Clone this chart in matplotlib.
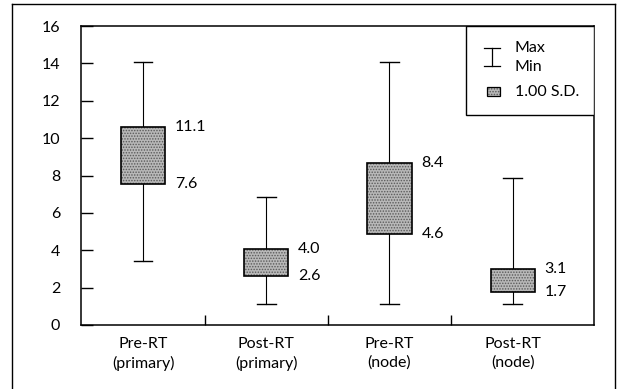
import matplotlib
matplotlib.use("Agg")
import matplotlib.pyplot as plt
from matplotlib.patches import Rectangle
from matplotlib.lines import Line2D

# ---- data ----
categories = ["Pre-RT\n(primary)", "Post-RT\n(primary)", "Pre-RT\n(node)", "Post-RT\n(node)"]
max_vals = [14.05, 6.85, 14.05, 7.85]
min_vals = [3.4, 1.13, 1.12, 1.12]
sd_high = [10.6, 4.05, 8.65, 3.0]
sd_low = [7.55, 2.62, 4.85, 1.75]
high_labels = ["11.1", "4.0", "8.4", "3.1"]
low_labels = ["7.6", "2.6", "4.6", "1.7"]
yticks = [0, 2, 4, 6, 8, 10, 12, 14, 16]

plt.rcParams['font.family'] = ['Lato', 'DejaVu Sans']
plt.rcParams['hatch.linewidth'] = 0.7
FS = 11.5
FACE = '#b8b8b8'
HATCH_C = '#5a5a5a'

fig = plt.figure(figsize=(6.17, 3.89), dpi=100)
ax = fig.add_axes([81/617, 1-325/389, (594-81)/617, (325-26)/389])

box_w = 0.36
cap_w = 0.15
xs = list(range(1, len(categories) + 1))

for x, mx, mn, hi, lo, hl, ll in zip(xs, max_vals, min_vals, sd_high, sd_low, high_labels, low_labels):
    ax.plot([x, x], [mn, mx], color='black', lw=0.8, zorder=1)
    ax.plot([x - cap_w/2, x + cap_w/2], [mx, mx], color='black', lw=1.0, zorder=1)
    ax.plot([x - cap_w/2, x + cap_w/2], [mn, mn], color='black', lw=1.0, zorder=1)
    ax.add_patch(Rectangle((x - box_w/2, lo), box_w, hi - lo, facecolor=FACE,
                           edgecolor=HATCH_C, hatch='......', lw=0, zorder=2))
    ax.add_patch(Rectangle((x - box_w/2, lo), box_w, hi - lo, facecolor='none',
                           edgecolor='black', lw=1.2, zorder=3))
    ax.annotate(hl, (x + box_w/2, hi), xytext=(7, 0), textcoords='offset points',
                ha='left', va='center', fontsize=FS)
    ax.annotate(ll, (x + box_w/2, lo), xytext=(7, 0), textcoords='offset points',
                ha='left', va='center', fontsize=FS)

ax.set_xlim(0.496, 4.66)
ax.set_ylim(0, 16)
ax.set_yticks(yticks)
ax.set_yticklabels([str(v) for v in yticks], fontsize=FS)
ax.tick_params(axis='y', direction='in', length=8.6, width=1.0, pad=15)
ax.set_xticks(xs)
ax.set_xticklabels(categories, fontsize=FS, linespacing=1.35)
ax.tick_params(axis='x', which='major', length=0, pad=9)
ax.set_xticks([1.5, 2.5, 3.5], minor=True)
ax.tick_params(axis='x', which='minor', direction='in', length=7, width=1.0)
for s in ax.spines.values():
    s.set_linewidth(1.1)

# legend drawn manually (top right)
ax.add_patch(Rectangle((0.75, 0.702), 0.25, 0.298, transform=ax.transAxes,
                       facecolor='white', edgecolor='black', lw=1.0, zorder=4))
ix = (492-81)/513
y1 = (325-48)/299
y2 = (325-66)/299
cw = 8/513
for xx, yy in [((ix, ix), (y1, y2)), ((ix-cw, ix+cw), (y1, y1)), ((ix-cw, ix+cw), (y2, y2))]:
    ax.add_line(Line2D(xx, yy, transform=ax.transAxes, color='black', lw=0.9, zorder=5))
tx = (515-81)/513
ax.text(tx, (325-48)/299, "Max", transform=ax.transAxes, fontsize=FS, va='center', ha='left', zorder=5)
ax.text(tx, (325-67)/299, "Min", transform=ax.transAxes, fontsize=FS, va='center', ha='left', zorder=5)
sq_y = (325-96)/299
ax.add_patch(Rectangle(((487-81)/513, sq_y), 13/513, 9/299, transform=ax.transAxes,
                       facecolor=FACE, edgecolor=HATCH_C, hatch='......', lw=0, zorder=5))
ax.add_patch(Rectangle(((487-81)/513, sq_y), 13/513, 9/299, transform=ax.transAxes,
                       facecolor='none', edgecolor='black', lw=0.9, zorder=6))
ax.text(tx, (325-92)/299, "1.00 S.D.", transform=ax.transAxes, fontsize=FS, va='center', ha='left', zorder=5)

# outer frame of the scanned figure
fig.add_artist(Line2D([12/617, 12/617], [0, 1-4/389], color='black', lw=1.0))
fig.add_artist(Line2D([12/617, 615/617], [1-4/389, 1-4/389], color='black', lw=1.0))
fig.add_artist(Line2D([615/617, 615/617], [0, 1-4/389], color='black', lw=1.0))

fig.savefig("out.png", dpi=100)
